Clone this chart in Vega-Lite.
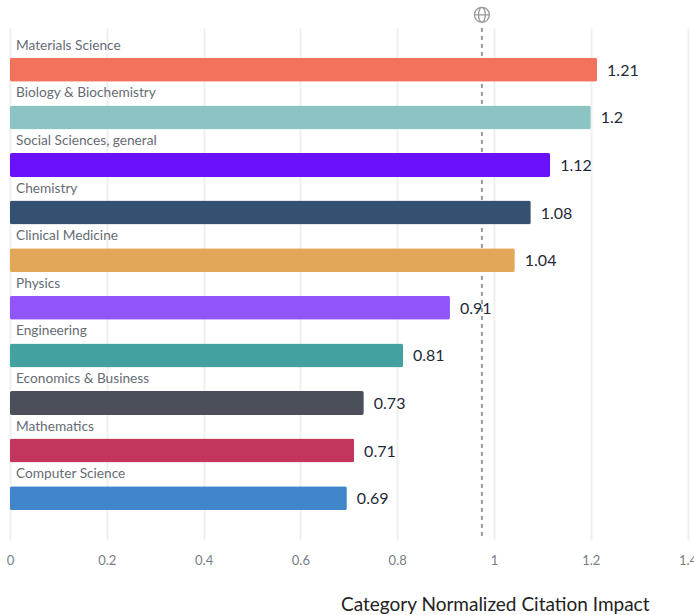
{
 "$schema":"https://vega.github.io/schema/vega-lite/v6.json",
 "width":677.6,"height":512,
 "autosize":{"type":"none"},
 "padding":{"left":10,"top":28,"right":6.4,"bottom":75},
 "background":"white",
 "config":{"view":{"stroke":null},"font":"Lato"},
 "data":{"values":[
  {"category":"Materials Science","value":1.213,"label":"1.21"},
  {"category":"Biology & Biochemistry","value":1.2,"label":"1.2"},
  {"category":"Social Sciences, general","value":1.116,"label":"1.12"},
  {"category":"Chemistry","value":1.076,"label":"1.08"},
  {"category":"Clinical Medicine","value":1.043,"label":"1.04"},
  {"category":"Physics","value":0.909,"label":"0.91"},
  {"category":"Engineering","value":0.812,"label":"0.81"},
  {"category":"Economics & Business","value":0.731,"label":"0.73"},
  {"category":"Mathematics","value":0.711,"label":"0.71"},
  {"category":"Computer Science","value":0.696,"label":"0.69"}
 ]},
 "encoding":{
  "y":{"field":"category","type":"nominal","sort":null,"axis":null,
   "scale":{"paddingInner":0.495,"paddingOuter":0.6255}}
 },
 "layer":[
  {"mark":{"type":"rule","color":"#999999","strokeWidth":2,"strokeDash":[4,4]},
   "data":{"values":[{"benchmark":0.975}]},
   "encoding":{"x":{"field":"benchmark","type":"quantitative"},"y":{"value":0},"y2":{"value":512}}},
  {"mark":{"type":"bar","cornerRadius":2,"size":24},
   "encoding":{
    "x":{"field":"value","type":"quantitative","scale":{"domain":[0,1.4],"nice":false},
     "axis":{"values":[0,0.2,0.4,0.6,0.8,1,1.2,1.4],"format":"~g","grid":true,"gridColor":"#f0f0f0","gridWidth":2,"domain":false,"ticks":false,
      "labelColor":"#777e86","labelFontSize":13,"labelPadding":14,"labelFlush":false,"labelOverlap":false,
      "title":"Category Normalized Citation Impact","titleFontSize":19,"titleFontWeight":"normal","titleColor":"#222","titleX":639,"titleY":55,"titleAlign":"right","titleAnchor":"end"}},
    "color":{"field":"category","type":"nominal","legend":null,"sort":null,
     "scale":{"domain":["Materials Science","Biology & Biochemistry","Social Sciences, general","Chemistry","Clinical Medicine","Physics","Engineering","Economics & Business","Mathematics","Computer Science"],
      "range":["#f2725b","#8cc4c4","#6a10fb","#355071","#e2a857","#9055fb","#43a1a0","#4b4f5a","#c2365c","#3f85cb"]}}
   }},
  {"mark":{"type":"text","align":"left","dx":6,"dy":-24,"fontSize":13.7,"color":"#666c74"},
   "encoding":{"x":{"datum":0},"text":{"field":"category"}}},
  {"mark":{"type":"text","align":"left","dx":10,"dy":1,"fontSize":16,"color":"#1f2a38"},
   "encoding":{"x":{"field":"value","type":"quantitative"},"text":{"field":"label"}}},
  {"data":{"values":[{"benchmark":0.975,"category":"Materials Science"}]},
   "mark":{"type":"point","filled":false,"color":"#999999","strokeWidth":1.3,"opacity":1,"size":225,"yOffset":-55,
    "shape":"M-1,0A1,1 0 1,1 1,0A1,1 0 1,1 -1,0Z M-1,0L1,0 M0,-1A0.45,1 0 0,0 0,1A0.45,1 0 0,0 0,-1Z"},
   "encoding":{"x":{"field":"benchmark","type":"quantitative"}}}
 ]
}
